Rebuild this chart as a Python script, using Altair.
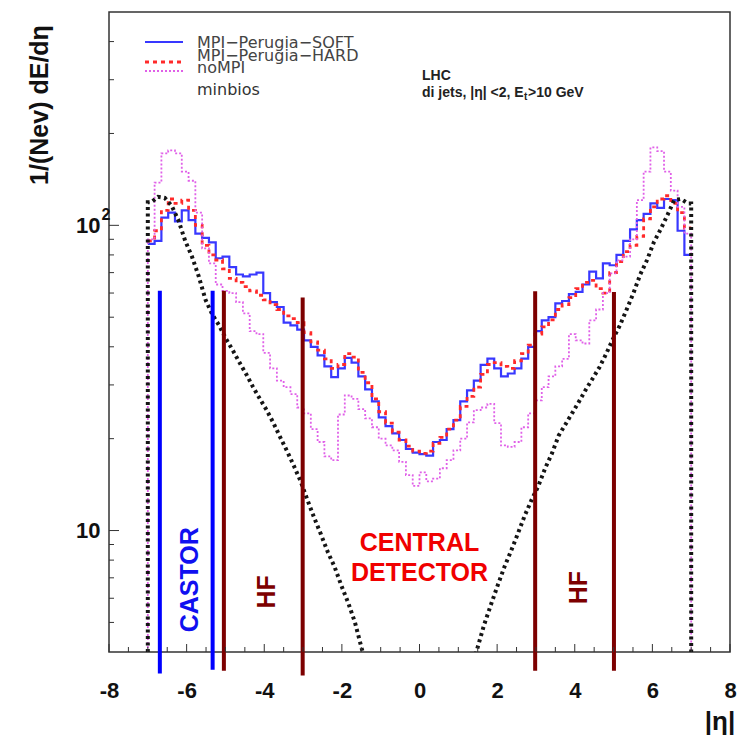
import altair as alt
import pandas as pd

# ---------------- data ----------------
ETA_LO, ETA_HI = -7.0, 7.0
N_BINS = 80
BIN_W = (ETA_HI - ETA_LO) / N_BINS
Y_MIN, Y_MAX = 4, 500

soft = [87, 89, 106, 110, 103, 112, 104, 94, 91, 88,
        78, 79, 73, 69, 68, 69, 70, 60, 56, 54,
        48, 47, 45.5, 42, 40, 37.5, 34.5, 31.8, 34, 36.8,
        35.5, 32, 29, 26.5, 23.5, 22, 20.8, 19.8, 18.5, 18,
        17.8, 17.6, 19.5, 19.8, 21.5, 23, 26.5, 28.8, 31, 34.9,
        36.6, 34, 32, 32.7, 34, 36.6, 40, 45, 48.8, 50,
        55.5, 56.5, 59.5, 60.5, 64, 70.5, 67, 75, 74, 80,
        89, 97, 104, 109, 118, 114, 122, 121, 96, 80]

hard = [89, 96, 112, 122, 118, 121, 112, 100, 86, 80,
        77, 72, 67, 65, 63, 61, 59, 57, 55, 53,
        50.5, 49.5, 48, 44.5, 41.5, 39, 36.5, 34, 35, 38,
        37, 33, 30.5, 27, 24.5, 22.5, 21, 19.8, 18.9, 18.2,
        17.9, 18.2, 19.3, 20.2, 21.5, 23, 25.5, 27.5, 29.5, 32.5,
        35, 35.5, 34.5, 34, 36, 38, 40.5, 44, 46.5, 49,
        53, 55, 58, 62, 65, 66, 62, 60, 70, 76,
        82, 86, 92, 105, 115, 122, 125, 118, 110, 98]

nompi = [90, 138, 172, 176, 172, 150, 140, 110, 84, 75,
         64, 61, 60, 56, 51.5, 45, 44, 38.2, 34, 31,
         29.5, 28, 25.3, 24.2, 21.5, 19.5, 17.5, 17, 24, 27.7,
         27, 25, 23.3, 21.8, 20, 19, 18.3, 16.8, 15.2, 14,
         15.5, 14.5, 14.8, 16, 17, 18.3, 20, 22.6, 24.8, 25.3,
         26, 22.5, 19, 18.8, 19.5, 21.8, 24.2, 26.7, 29.5, 32,
         34.5, 36.5, 44, 42, 41, 48.8, 53, 60, 69.6, 76.8,
         79, 90, 121, 150, 180, 175, 150, 130, 115, 94]

# minbias (black dotted), bins 0..32 and 47..79 (centre goes below the frame)
minbias_left = [119, 124, 123, 116, 104, 89, 79, 68, 57, 51,
                47, 42.5, 39, 35.5, 32.5, 29.5, 27, 24.8, 22.5, 20.2,
                18.2, 16.3, 14.5, 12.6, 11, 9.7, 8.5, 7.6, 6.6, 5.8,
                5.0, 4.1, 3.4]
minbias_right = [3.4, 4.1, 4.9, 5.7, 6.6, 7.6, 8.6, 9.8, 11.2, 12.6,
                 14.0, 16.0, 17.9, 20.5, 22.3, 24.3, 26.5, 29, 31.5, 34.3,
                 38, 42.5, 47, 53, 60, 69, 77, 88, 97, 108,
                 121, 122, 118]
RIGHT_FIRST_BIN = 47

# detector boundaries
castor_eta = [-6.69, -5.33]
castor_top = [61, 61]
castor_bottom = [3.4, 3.5]
hf_eta = [-5.04, -3.01, 2.98, 5.01]
hf_top = [61, 58, 60.8, 60.5]
hf_bottom = [3.47, 3.35, 3.47, 3.47]

x_tick_labels = list(range(-8, 9, 2))
x_minor_ticks = [v / 2 for v in range(-15, 16) if v % 4 != 0]
y_major_ticks = [10, 100]
y_minor_ticks = [5, 6, 7, 8, 9, 20, 30, 40, 50, 60, 70, 80, 90, 200, 300, 400]

legend_labels = ["MPI\u2212Perugia\u2212SOFT", "MPI\u2212Perugia\u2212HARD", "noMPI", "minbios"]

# ---------------- helpers ----------------
def step_frame(vals, drop):
    xs_ = [ETA_LO + i * BIN_W for i in range(len(vals))] + [ETA_HI]
    ys_ = list(vals) + [vals[-1]]
    if drop:
        xs_ = [ETA_LO] + xs_ + [ETA_HI]
        ys_ = [Y_MIN] + ys_ + [Y_MIN]
    return pd.DataFrame({"eta": xs_, "val": ys_, "idx": list(range(len(xs_)))})


def minbias_frame():
    rows = []
    k = 0
    rows.append(("L", ETA_LO, Y_MIN, k)); k += 1
    rows.append(("L", ETA_LO, minbias_left[0], k)); k += 1
    for i, v in enumerate(minbias_left):
        rows.append(("L", ETA_LO + (i + 0.5) * BIN_W, v, k)); k += 1
    for j, v in enumerate(minbias_right):
        i = RIGHT_FIRST_BIN + j
        rows.append(("R", ETA_LO + (i + 0.5) * BIN_W, v, k)); k += 1
    rows.append(("R", ETA_HI, minbias_right[-1], k)); k += 1
    rows.append(("R", ETA_HI, Y_MIN, k)); k += 1
    return pd.DataFrame(rows, columns=["side", "eta", "val", "idx"])


xs = alt.Scale(domain=[-8, 8], nice=False, zero=False)
ys = alt.Scale(type="log", domain=[Y_MIN, Y_MAX], nice=False)
BOLD = "Liberation Sans"

x_axis = alt.Axis(values=x_tick_labels, labelExpr="toString(datum.value)",
                  labelFont=BOLD, labelFontWeight="bold",
                  labelFontSize=22, labelColor="#111", ticks=False, tickSize=0,
                  domain=False, grid=False, title=None, labelPadding=38,
                  labelBaseline="middle", labelFlush=False, labelOverlap=False)
y_axis = alt.Axis(values=y_major_ticks, labelExpr="'10'", labelFont=BOLD,
                  labelFontWeight="bold", labelFontSize=22, labelColor="#111",
                  ticks=False, tickSize=0, domain=False, grid=False, title=None,
                  labelPadding=9, labelFlush=False, labelOverlap=False)


def X(field="eta:Q"):
    return alt.X(field, scale=xs, axis=x_axis)


def Y(field="val:Q"):
    return alt.Y(field, scale=ys, axis=y_axis)


layers = []

# histograms
layers.append(alt.Chart(step_frame(soft, False)).mark_line(
    interpolate="step-after", clip=True, color="#3838ff", strokeWidth=2.2
).encode(x=X(), y=Y(), order="idx:Q"))

layers.append(alt.Chart(step_frame(hard, False)).mark_line(
    interpolate="step-after", clip=True, color="#ff2a2a", strokeWidth=2.8,
    strokeDash=[4, 4]
).encode(x=X(), y=Y(), order="idx:Q"))

layers.append(alt.Chart(step_frame(nompi, True)).mark_line(
    interpolate="step-after", clip=True, color="#e060e8", strokeWidth=1.8,
    strokeDash=[2, 2]
).encode(x=X(), y=Y(), order="idx:Q"))

layers.append(alt.Chart(minbias_frame()).mark_line(
    clip=True, color="#151515", strokeWidth=4, strokeDash=[3, 3.5]
).encode(x=X(), y=Y(), detail="side:N", order="idx:Q"))

# detector boundaries
castor_df = pd.DataFrame({"eta": castor_eta, "top": castor_top, "bottom": castor_bottom})
hf_df = pd.DataFrame({"eta": hf_eta, "top": hf_top, "bottom": hf_bottom})
layers.append(alt.Chart(castor_df).mark_rule(color="#0000ff", strokeWidth=4, clip=False)
              .encode(x=X(), y=Y("top:Q"), y2="bottom:Q"))
layers.append(alt.Chart(hf_df).mark_rule(color="#7d0000", strokeWidth=4, clip=False)
              .encode(x=X(), y=Y("top:Q"), y2="bottom:Q"))

# inward ticks
layers.append(alt.Chart(pd.DataFrame({"v": y_major_ticks})).mark_rule(color="#333", strokeWidth=1)
              .encode(y=Y("v:Q"), x=alt.value(0), x2=alt.value(10)))
layers.append(alt.Chart(pd.DataFrame({"v": y_minor_ticks})).mark_rule(color="#333", strokeWidth=1)
              .encode(y=Y("v:Q"), x=alt.value(0), x2=alt.value(5)))
layers.append(alt.Chart(pd.DataFrame({"v": x_tick_labels})).mark_rule(color="#333", strokeWidth=1)
              .encode(x=X("v:Q"), y=alt.value(640), y2=alt.value(632)))
layers.append(alt.Chart(pd.DataFrame({"v": x_minor_ticks})).mark_rule(color="#333", strokeWidth=1)
              .encode(x=X("v:Q"), y=alt.value(640), y2=alt.value(635)))

# superscript of 10^2
layers.append(alt.Chart(pd.DataFrame({"v": [100], "t": ["2"]})).mark_text(
    font=BOLD, fontWeight="bold", fontSize=16, color="#111", dy=-10, align="center"
).encode(x=alt.value(-3), y=Y("v:Q"), text="t:N"))

# detector annotations
def annot(label, eta, val, color, size, angle=0):
    return alt.Chart(pd.DataFrame({"eta": [eta], "val": [val], "t": [label]})).mark_text(
        font=BOLD, fontWeight="bold", fontSize=size, color=color, angle=angle,
        align="center", baseline="middle"
    ).encode(x=X(), y=Y(), text="t:N")

layers.append(annot("CASTOR", -5.92, 6.9, "#1010f0", 25, 270))
layers.append(annot("HF", -3.93, 6.3, "#7d0000", 25, 270))
layers.append(annot("HF", 4.11, 6.5, "#7d0000", 25, 270))
layers.append(annot("CENTRAL", 0.0, 9.1, "#f00000", 25))
layers.append(annot("DETECTOR", 0.0, 7.25, "#f00000", 25))

# legend
def pix_text(label, x, y, font, size, color, weight="normal", align="left", angle=0):
    return alt.Chart(pd.DataFrame({"t": [label]})).mark_text(
        font=font, fontSize=size, color=color, fontWeight=weight, align=align,
        baseline="middle", angle=angle
    ).encode(x=alt.value(x), y=alt.value(y), text="t:N")

def pix_rule(y, color, width, dash=None):
    kw = dict(color=color, strokeWidth=width)
    if dash:
        kw["strokeDash"] = dash
    return alt.Chart(pd.DataFrame({"a": [0]})).mark_rule(**kw).encode(
        x=alt.value(36), x2=alt.value(74), y=alt.value(y))

LEG = "DejaVu Sans"
layers.append(pix_rule(30, "#3838ff", 2.2))
layers.append(pix_rule(50, "#ff2a2a", 2.8, [4, 4]))
layers.append(pix_rule(59, "#e060e8", 1.8, [2, 2]))
layers.append(pix_text(legend_labels[0], 88, 31, LEG, 16, "#444"))
layers.append(pix_text(legend_labels[1], 88, 44, LEG, 16, "#444"))
layers.append(pix_text(legend_labels[2], 88, 56, LEG, 16, "#444"))
layers.append(pix_text(legend_labels[3], 88, 78, LEG, 16, "#333"))

# header texts
layers.append(pix_text("LHC", 313, 64, BOLD, 14, "#222", "bold"))
layers.append(pix_text("di jets, |\u03b7| <2, E", 313, 81, BOLD, 14, "#222", "bold"))
layers.append(pix_text("t", 415, 85, BOLD, 10, "#222", "bold"))
layers.append(pix_text(">10 GeV", 419, 81, BOLD, 14, "#222", "bold"))

# axis titles
layers.append(pix_text("1/(Nev) dE/d\u03b7", -69, 93, BOLD, 25, "#111", "bold", "center", 270))
layers.append(pix_text("|\u03b7|", 611, 710, BOLD, 26, "#111", "bold", "center"))

chart = alt.layer(*layers).properties(
    width=621, height=640,
    autosize=alt.AutoSizeParams(type="none"),
    padding={"left": 109, "top": 12, "right": 11, "bottom": 92},
    background="white",
).configure_view(stroke="#333", strokeWidth=1.5)

chart.save("out.html", embed_options={"renderer": "svg", "actions": False})
